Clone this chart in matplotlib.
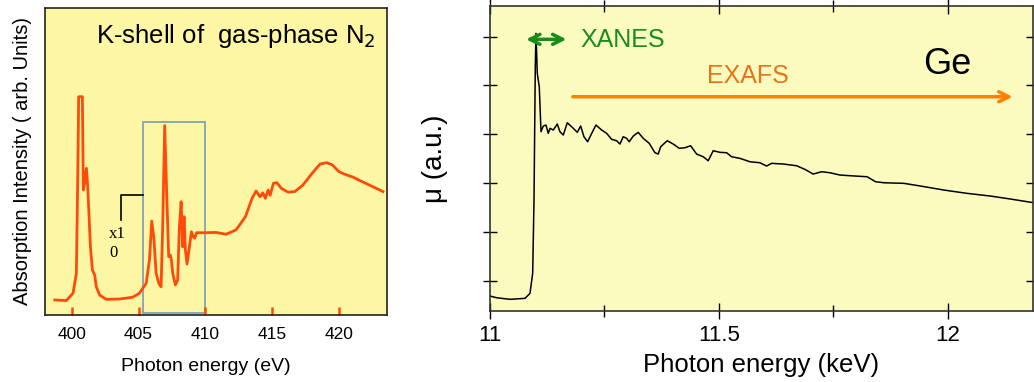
import matplotlib
matplotlib.use("Agg")
import matplotlib.pyplot as plt
from matplotlib.patches import Rectangle
from matplotlib.ticker import MultipleLocator

plt.rcParams["font.family"] = ["Liberation Sans", "DejaVu Sans"]

# --- N2 K-shell spectrum (eV, arb. units) ---
n2_energy = [398.73, 399.6, 400.1, 400.35, 400.47, 400.52, 400.8, 400.87, 400.97,
             401.1, 401.2, 401.4, 401.55, 401.72, 401.84, 402.09, 402.59, 403.58,
             404.57, 405.07, 405.57, 405.82, 405.99, 406.14, 406.32, 406.52, 406.69,
             406.81, 406.96, 407.11, 407.26, 407.39, 407.46, 407.56, 407.76, 407.93,
             408.06, 408.19, 408.31, 408.41, 408.51, 408.63, 408.81, 408.96, 409.1,
             409.2, 409.35, 410.05, 410.8, 411.55, 412.3, 413.0, 413.5, 413.8,
             414.1, 414.3, 414.5, 414.7, 414.85, 415.1, 415.35, 415.7, 416.2,
             416.7, 417.3, 418.0, 418.6, 419.1, 419.5, 420.0, 420.4, 421.0,
             422.0, 423.3]
n2_signal = [4.9, 4.7, 7.1, 13.6, 50.5, 71.1, 71.1, 40.7, 42.9,
             47.8, 41.8, 22.3, 14.7, 13.0, 9.2, 6.5, 5.1, 5.2,
             5.8, 7.1, 10.3, 17.9, 30.6, 25.5, 13.6, 10.3, 9.2,
             28.8, 61.7, 39.6, 19.0, 19.5, 17.9, 13.6, 9.8, 11.4,
             28.8, 36.9, 22.2, 32.0, 21.2, 16.6, 22.2, 27.1, 25.5,
             25.0, 26.8, 26.8, 26.9, 26.3, 27.7, 32.0, 38.0, 40.4,
             38.5, 39.8, 38.0, 40.7, 39.0, 42.9, 43.1, 41.2, 40.0,
             40.2, 42.3, 46.2, 49.2, 49.6, 48.9, 46.7, 45.9, 45.0,
             42.9, 40.2]
n2_ticks = [400, 405, 410, 415, 420]

# --- Ge K-edge absorption (keV, a.u.) ---
ge_energy = [11.0, 11.0146, 11.0437, 11.0764, 11.0873, 11.0932, 11.0961, 11.0989,
             11.1004, 11.1033, 11.1076, 11.1114, 11.1164, 11.1223, 11.1273, 11.1310,
             11.1382, 11.1469, 11.1528, 11.1600, 11.1688, 11.1819, 11.1906, 11.1980,
             11.2052, 11.2133, 11.2221, 11.2314, 11.2439, 11.2548, 11.2657, 11.2766,
             11.2838, 11.2910, 11.2985, 11.3041, 11.3129, 11.3238, 11.3347, 11.3478,
             11.3603, 11.3675, 11.3727, 11.3871, 11.4002, 11.4133, 11.4258, 11.4382,
             11.4513, 11.4657, 11.4766, 11.4876, 11.5022, 11.5168, 11.5277, 11.5459,
             11.5677, 11.5895, 11.6041, 11.6151, 11.6404, 11.6697, 11.6878, 11.7059,
             11.7242, 11.7424, 11.7642, 11.7876, 11.8238, 11.8421, 11.8603, 11.9039,
             11.9404, 11.9913, 12.0421, 12.0932, 12.1369, 12.1878]
ge_mu = [0.693, 0.658, 0.626, 0.646, 0.748, 1.157, 2.656, 5.382,
         6.065, 5.247, 4.973, 4.053, 4.170, 4.190, 4.020, 4.123,
         4.088, 4.211, 4.053, 3.986, 4.237, 4.123, 4.041, 4.170,
         3.951, 3.849, 4.020, 4.190, 4.088, 4.020, 3.898, 3.869,
         3.802, 3.951, 3.918, 3.849, 3.965, 4.041, 3.918, 3.816,
         3.624, 3.597, 3.746, 3.869, 3.802, 3.714, 3.726, 3.767,
         3.597, 3.542, 3.460, 3.665, 3.632, 3.624, 3.542, 3.509,
         3.440, 3.419, 3.352, 3.407, 3.393, 3.358, 3.284, 3.188,
         3.235, 3.215, 3.168, 3.153, 3.133, 3.031, 3.010, 2.998,
         2.943, 2.861, 2.793, 2.738, 2.677, 2.601]

fig = plt.figure(figsize=(10.34, 3.82), dpi=100)

# ---------------- left panel ----------------
ax1 = fig.add_axes([0.0435, 0.1754, 0.3308, 0.8037])
ax1.set_facecolor("#fdf7a5")
ax1.plot(n2_energy, n2_signal, color="#ff4a0a", lw=2.0, solid_joinstyle="round")
ax1.set_xlim(398.0, 423.6)
ax1.set_ylim(0, 100)
ax1.set_xticks(n2_ticks)
ax1.set_yticks([])
ax1.tick_params(axis="x", direction="in", length=6, width=1.8, color="#ff4a0a",
                labelsize=12.5, pad=9)
for s in ax1.spines.values():
    s.set_linewidth(1.2)
    s.set_color("#222222")
ax1.add_patch(Rectangle((405.3, 0.6), 4.7, 62.4, fill=False,
                        edgecolor="#7a9bb5", lw=1.2))
ax1.plot([403.66, 403.66, 405.3], [30.9, 39.1, 39.1], color="black", lw=1.2)
ax1.text(402.8, 26.4, "x1", family=["Liberation Serif", "DejaVu Serif"],
         fontsize=12, va="center", ha="left")
ax1.text(402.8, 20.1, "0", family=["Liberation Serif", "DejaVu Serif"],
         fontsize=12, va="center", ha="left")
ax1.text(0.968, 0.91, "K-shell of  gas-phase N$_2$", transform=ax1.transAxes,
         ha="right", va="center", fontsize=18.5)
ax1.set_xlabel("Photon energy (eV)", fontsize=14)
ax1.xaxis.set_label_coords(0.47, -0.14)
ax1.set_ylabel("Absorption Intensity ( arb. Units)", fontsize=14.5, labelpad=9)

# ---------------- right panel ----------------
ax2 = fig.add_axes([0.4739, 0.1866, 0.5251, 0.7976])
ax2.set_facecolor("#fbfbc0")
ax2.plot(ge_energy, ge_mu, color="black", lw=1.1)
ax2.set_xlim(11.0, 12.186)
ax2.set_ylim(0.393, 6.624)
ax2.set_xticks([11, 11.5, 12])
ax2.set_xticklabels(["11", "11.5", "12"])
ax2.xaxis.set_minor_locator(MultipleLocator(0.25))
ax2.set_yticks([1, 2, 3, 4, 5, 6])
ax2.set_yticklabels([])
ax2.tick_params(axis="x", which="major", direction="inout", length=12, width=1,
                top=True, labelsize=16, pad=4)
ax2.tick_params(axis="x", which="minor", direction="inout", length=8, width=1,
                top=True)
ax2.tick_params(axis="y", which="major", direction="inout", length=10, width=1,
                right=True)
for s in ax2.spines.values():
    s.set_linewidth(1.2)
    s.set_color("#333333")
ax2.set_xlabel("Photon energy (keV)", fontsize=18.5, labelpad=5)
ax2.set_ylabel("μ (a.u.)", fontsize=20, labelpad=22)

# XANES / EXAFS annotations
ax2.annotate("", xy=(11.0727, 5.943), xytext=(11.1731, 5.943),
             arrowprops=dict(arrowstyle="<->", color="#1a8c1a", lw=2.5,
                             mutation_scale=18))
ax2.text(11.198, 5.928, "XANES", color="#1a8c1a", fontsize=18,
         ha="left", va="center")
ax2.annotate("", xy=(12.1478, 4.769), xytext=(11.1747, 4.769),
             arrowprops=dict(arrowstyle="->", color="#ff8000", lw=2.5,
                             mutation_scale=18))
ax2.text(11.564, 5.192, "EXAFS", color="#e8741a", fontsize=18,
         ha="center", va="center")
ax2.text(11.998, 5.438, "Ge", color="black", fontsize=26,
         ha="center", va="center")

fig.savefig("out.png", dpi=100)
